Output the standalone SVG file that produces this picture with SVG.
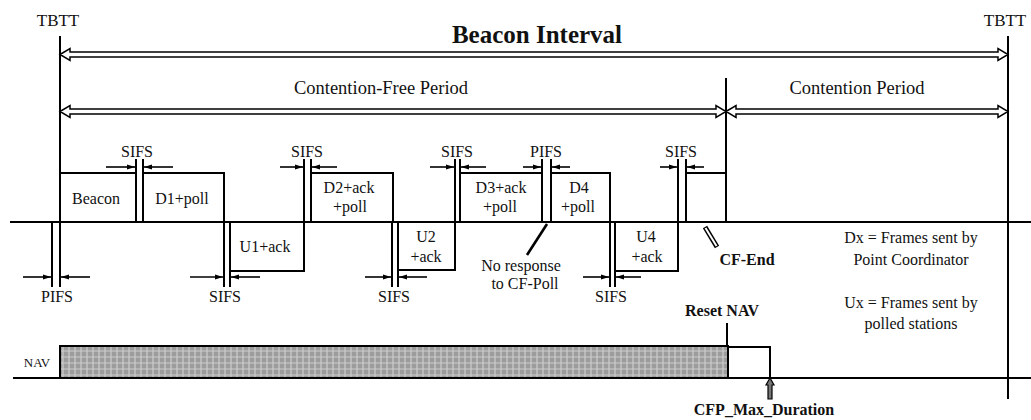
<svg xmlns="http://www.w3.org/2000/svg" width="1031" height="420" viewBox="0 0 1031 420" font-family="'Liberation Serif', 'Times New Roman', 'DejaVu Serif', serif">
<style>
text{font-family:'Liberation Serif','Times New Roman','DejaVu Serif',serif;fill:#111;}
.t16{font-size:16px;text-anchor:middle;}
.lbl{font-size:18.5px;text-anchor:middle;}
.b{font-weight:bold;}
.ln{stroke:#000;stroke-width:2;fill:none;}
.box{stroke:#000;stroke-width:2;fill:none;}
.ifs{stroke:#000;stroke-width:1.6;fill:none;marker-end:url(#ah);}
.dbl{fill:#fff;stroke:#000;stroke-width:1.5;stroke-linejoin:miter;}
</style>
<defs>
<marker id="ah" viewBox="0 0 8 6" refX="8" refY="3" markerWidth="8" markerHeight="6" markerUnits="userSpaceOnUse" orient="auto">
<path d="M0,0.5 L8,3 L0,5.5 z" fill="#000"/>
</marker>
<pattern id="hatch" width="6" height="6" patternUnits="userSpaceOnUse">
<rect width="6" height="6" fill="#9c9c9c"/>
<path d="M3,0 V6 M0,3 H6" stroke="#cdcdcd" stroke-width="1.2"/>
</pattern>
</defs>
<rect width="1031" height="420" fill="#fff"/>

<g id="connectors">
<line class="ln" x1="10" y1="222" x2="1031" y2="222" stroke-width="2.2"/>
<line class="ln" x1="60" y1="36" x2="60" y2="222"/>
<line class="ln" x1="726" y1="78" x2="726" y2="222"/>
<line class="ln" x1="1008" y1="36" x2="1008" y2="399"/>
<path class="dbl" d="M60,54.5 L70,48.5 L70,52 L998,52 L998,48.5 L1008,54.5 L998,60.5 L998,57 L70,57 L70,60.5 Z"/>
<path class="dbl" d="M60,111.5 L70,105.5 L70,109 L716,109 L716,105.5 L726,111.5 L716,117.5 L716,114 L70,114 L70,117.5 Z"/>
<path class="dbl" d="M726,111.5 L736,105.5 L736,109 L998,109 L998,105.5 L1008,111.5 L998,117.5 L998,114 L736,114 L736,117.5 Z"/>
<line x1="547" y1="224" x2="527" y2="255" stroke="#000" stroke-width="2.6"/>
<line x1="705" y1="227" x2="717" y2="247" stroke="#000" stroke-width="5"/>
<line x1="705.5" y1="228" x2="716.5" y2="246" stroke="#fff" stroke-width="2"/>
<line class="ln" x1="13" y1="378" x2="1031" y2="378"/>
<path class="ln" d="M729,347 H770 V378"/>
<line class="ln" x1="727" y1="323" x2="727" y2="345"/>
<path d="M770,378 L766,385 L768,385 L768,399 L772,399 L772,385 L774,385 Z" fill="#777" stroke="#000" stroke-width="1.2"/>
</g>

<g id="labels-top">
<text x="58" y="26" font-size="17" text-anchor="middle">TBTT</text>
<text x="1005" y="26" font-size="17" text-anchor="middle">TBTT</text>
<text x="537" y="43" font-weight="bold" font-size="25" text-anchor="middle">Beacon Interval</text>
<text x="381" y="94" class="lbl">Contention-Free Period</text>
<text x="857" y="94" class="lbl">Contention Period</text>
</g>

<g id="beacon"><rect class="box" x="60" y="173" width="76" height="49"/><text class="t16" x="96" y="204">Beacon</text></g>
<g id="d1"><rect class="box" x="143" y="173" width="81" height="49"/><text class="t16" x="182" y="204">D1+poll</text></g>
<g id="u1"><rect class="box" x="230" y="222" width="74" height="49"/><text class="t16" x="265" y="252">U1+ack</text></g>
<g id="d2"><rect class="box" x="311" y="173" width="82" height="49"/><text class="t16" x="349" y="193">D2+ack</text><text class="t16" x="350" y="212">+poll</text></g>
<g id="u2"><rect class="box" x="398" y="222" width="57" height="48"/><text class="t16" x="426" y="242">U2</text><text class="t16" x="426" y="262">+ack</text></g>
<g id="d3"><rect class="box" x="460" y="173" width="82" height="49"/><text class="t16" x="501" y="193">D3+ack</text><text class="t16" x="500" y="212">+poll</text></g>
<g id="d4"><rect class="box" x="551" y="173" width="59" height="49"/><text class="t16" x="579" y="193">D4</text><text class="t16" x="578" y="212">+poll</text></g>
<g id="u4"><rect class="box" x="615" y="222" width="63" height="49"/><text class="t16" x="646" y="242">U4</text><text class="t16" x="647" y="262">+ack</text></g>
<g id="cfend"><rect class="box" x="686" y="173" width="40" height="49"/><text class="t16 b" x="747" y="265">CF-End</text></g>

<g id="ifs-pifs0"><path class="ln" d="M52,222 V287 M60,222 V287"/><line class="ifs" x1="23" y1="277" x2="51" y2="277"/><line class="ifs" x1="90" y1="277" x2="61" y2="277"/><text class="t16" x="57" y="302">PIFS</text></g>
<g id="ifs-sifs1"><path class="ln" d="M136,159 V222 M143,159 V222"/><line class="ifs" x1="106" y1="167" x2="135" y2="167"/><line class="ifs" x1="173" y1="167" x2="144" y2="167"/><text class="t16" x="137" y="157">SIFS</text></g>
<g id="ifs-sifs2"><path class="ln" d="M224,222 V287 M230,222 V287"/><line class="ifs" x1="190" y1="277" x2="223" y2="277"/><line class="ifs" x1="260" y1="277" x2="231" y2="277"/><text class="t16" x="225" y="302">SIFS</text></g>
<g id="ifs-sifs3"><path class="ln" d="M304,159 V222 M311,159 V222"/><line class="ifs" x1="280" y1="167" x2="303" y2="167"/><line class="ifs" x1="337" y1="167" x2="312" y2="167"/><text class="t16" x="307" y="157">SIFS</text></g>
<g id="ifs-sifs4"><path class="ln" d="M392,222 V287 M398,222 V287"/><line class="ifs" x1="365" y1="277" x2="391" y2="277"/><line class="ifs" x1="427" y1="277" x2="399" y2="277"/><text class="t16" x="394" y="302">SIFS</text></g>
<g id="ifs-sifs5"><path class="ln" d="M455,159 V222 M460,159 V222"/><line class="ifs" x1="430" y1="167" x2="454" y2="167"/><line class="ifs" x1="486" y1="167" x2="461" y2="167"/><text class="t16" x="457" y="157">SIFS</text></g>
<g id="ifs-pifs1"><path class="ln" d="M542,159 V222 M551,159 V222"/><line class="ifs" x1="523" y1="167" x2="541" y2="167"/><line class="ifs" x1="570" y1="167" x2="552" y2="167"/><text class="t16" x="546" y="157">PIFS</text></g>
<g id="ifs-sifs6"><path class="ln" d="M610,222 V287 M615,222 V287"/><line class="ifs" x1="583" y1="277" x2="609" y2="277"/><line class="ifs" x1="641" y1="277" x2="616" y2="277"/><text class="t16" x="611" y="302">SIFS</text></g>
<g id="ifs-sifs7"><path class="ln" d="M678,159 V222 M686,159 V222"/><line class="ifs" x1="660" y1="167" x2="677" y2="167"/><line class="ifs" x1="704" y1="167" x2="687" y2="167"/><text class="t16" x="681" y="157">SIFS</text></g>

<g id="noresp"><text class="t16" x="521" y="271">No response</text><text class="t16" x="525" y="289">to CF-Poll</text></g>

<g id="legend">
<text class="t16" x="911" y="243">Dx = Frames sent by</text>
<text class="t16" x="911" y="265">Point Coordinator</text>
<text class="t16" x="911" y="308">Ux = Frames sent by</text>
<text class="t16" x="911" y="329">polled stations</text>
</g>

<g id="nav">
<rect x="60" y="346" width="668" height="32" fill="url(#hatch)" stroke="#000" stroke-width="2"/>
<text x="37" y="367" font-size="13" text-anchor="middle">NAV</text>
<text class="t16 b" x="722" y="316">Reset NAV</text>
<text class="t16 b" x="764" y="415">CFP_Max_Duration</text>
</g>
</svg>
